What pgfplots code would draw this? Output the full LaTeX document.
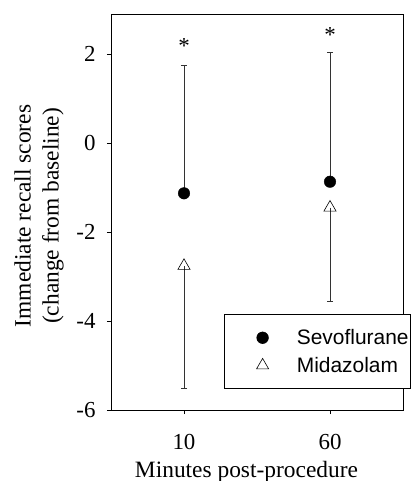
\documentclass[border=0pt]{standalone}
\usepackage{fontspec}
\setmainfont{Liberation Serif}
\newfontfamily\legfont{Liberation Sans}
\usepackage{pgfplots}
\pgfplotsset{compat=1.18}
\begin{document}
\begin{tikzpicture}
\useasboundingbox (-111bp,-71bp) rectangle (308bp,410bp);
\begin{axis}[
  scale only axis, width=292bp, height=396bp,
  anchor=south west, at={(0,0)},
  xmin=-0.5, xmax=1.5, ymin=-6, ymax=2.9,
  xtick={0,1}, xticklabels={10,60},
  ytick={-6,-4,-2,0,2},
  tick pos=left, tick align=outside, major tick length=4bp,
  /pgf/number format/assume math mode=true,
  font=\fontsize{23.5}{28}\selectfont,
  ticklabel style={font=\fontsize{23}{27}\selectfont},
  xticklabel style={yshift=-17bp},
  yticklabel style={xshift=-8bp},
  axis line style={line width=0.6bp},
  tick style={line width=0.6bp, black},
  xlabel={Minutes post-procedure},
  xlabel style={at={(axis description cs:0.464,0)}, anchor=base, yshift=-67bp},
  ylabel={Immediate recall scores\\(change from baseline)},
  ylabel style={at={(axis description cs:-0.15,0.49)}, anchor=south, align=center},
  legend style={at={(axis description cs:0.387,0.053)}, anchor=south west,
    font=\legfont\fontsize{21}{25}\selectfont, draw=black, line width=0.6bp,
    inner xsep=0pt, inner ysep=13bp, row sep=7bp, cells={anchor=west}},
  legend image code/.code={\path (-38bp,0) (32bp,0); \draw[#1] plot coordinates {(0bp,0bp)};},
]
\addplot[only marks, mark=*, mark size=5.8bp, black,
  error bars/.cd, y dir=plus, y explicit,
  error bar style={line width=0.6bp, black!80},
  error mark options={rotate=90, line width=0.6bp, black!80, mark size=3bp}]
  coordinates {(0,-1.13) +- (0,2.87) (1,-0.87) +- (0,2.90)};
\addlegendentry{Sevoflurane}
\addplot[only marks, mark=triangle, mark size=7bp, black, mark options={fill=white, line width=0.6bp},
  error bars/.cd, y dir=minus, y explicit,
  error bar style={line width=0.6bp, black!80},
  error mark options={rotate=90, line width=0.6bp, black!80, mark size=3bp}]
  coordinates {(0,-2.76) +- (0,2.75) (1,-1.45) +- (0,2.10)};
\addlegendentry{Midazolam}
\addplot[forget plot, draw=none, mark=none, nodes near coords={*},
  every node near coord/.style={anchor=center, font=\fontsize{23}{27}\selectfont}]
  coordinates {(0,2.17) (1,2.42)};
\end{axis}
\end{tikzpicture}
\end{document}
